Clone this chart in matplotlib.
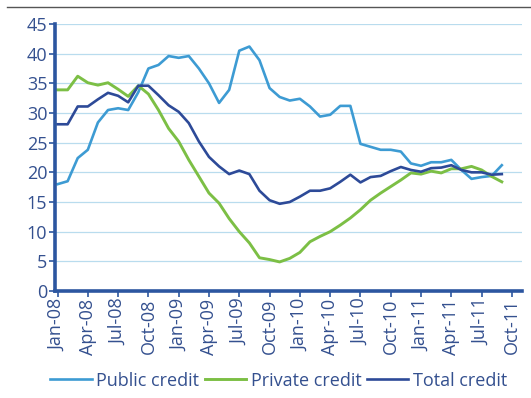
import matplotlib.pyplot as plt
from matplotlib.lines import Line2D

plt.rcParams['font.family'] = ['Open Sans', 'DejaVu Sans']

# monthly growth rates, Jan-08 .. Sep-11
public_credit = [18.0, 18.5, 22.4, 23.8, 28.4, 30.5, 30.8, 30.5, 33.5, 37.5,
                 38.1, 39.6, 39.3, 39.6, 37.5, 35.0, 31.7, 33.9, 40.5, 41.2,
                 38.9, 34.2, 32.7, 32.1, 32.4, 31.1, 29.4, 29.7, 31.2, 31.2,
                 24.8, 24.3, 23.8, 23.8, 23.5, 21.5, 21.1, 21.7, 21.7, 22.1,
                 20.4, 18.9, 19.2, 19.4, 21.2]
private_credit = [33.9, 33.9, 36.2, 35.1, 34.7, 35.1, 34.0, 32.8, 34.6, 33.2,
                  30.5, 27.4, 25.2, 22.1, 19.3, 16.5, 14.8, 12.2, 10.0, 8.1,
                  5.6, 5.3, 4.9, 5.5, 6.5, 8.3, 9.2, 10.0, 11.1, 12.3,
                  13.7, 15.3, 16.5, 17.6, 18.7, 19.9, 19.7, 20.2, 19.9, 20.6,
                  20.6, 21.0, 20.4, 19.3, 18.4]
total_credit = [28.1, 28.1, 31.1, 31.1, 32.3, 33.4, 32.9, 31.8, 34.6, 34.6,
                33.0, 31.3, 30.2, 28.3, 25.2, 22.6, 21.0, 19.7, 20.3, 19.7,
                16.9, 15.3, 14.7, 15.0, 15.9, 16.9, 16.9, 17.3, 18.4, 19.6,
                18.3, 19.2, 19.4, 20.2, 20.9, 20.4, 20.1, 20.7, 20.8, 21.2,
                20.4, 20.0, 20.0, 19.6, 19.7]

tick_labels = ['Jan-08', 'Apr-08', 'Jul-08', 'Oct-08', 'Jan-09', 'Apr-09',
               'Jul-09', 'Oct-09', 'Jan-10', 'Apr-10', 'Jul-10', 'Oct-10',
               'Jan-11', 'Apr-11', 'Jul-11', 'Oct-11']

months = list(range(len(public_credit)))
axis_col = '#2c56a0'
text_col = '#34508f'

fig = plt.figure(figsize=(5.31, 3.98), dpi=100)
ax = fig.add_axes([55/531, 1 - 291/398, (522 - 55)/531, (291 - 24)/398])

ax.plot(months, public_credit, color='#3d9bd3', lw=1.9, label='Public credit')
ax.plot(months, private_credit, color='#7cbf45', lw=2.1, label='Private credit')
ax.plot(months, total_credit, color='#2d4a98', lw=1.9, label='Total credit')

ax.set_ylim(0, 45)
ax.set_yticks(range(0, 46, 5))
ax.set_xlim(-0.25, 46)
ax.set_xticks(range(0, 46, 3))
ax.set_xticklabels(tick_labels, rotation=90)

ax.grid(axis='y', color='#b9dcee', lw=0.9)
ax.set_axisbelow(True)
for side in ['top', 'right']:
    ax.spines[side].set_visible(False)
for side in ['left', 'bottom']:
    ax.spines[side].set_color(axis_col)
    ax.spines[side].set_linewidth(2.6)
ax.tick_params(axis='both', colors=axis_col, labelcolor=text_col,
               labelsize=13, length=4, width=1.2, pad=1.5)

fig.legend(loc='lower center', bbox_to_anchor=(0.525, -0.02), ncol=3,
           frameon=False, fontsize=13, labelcolor=text_col,
           handlelength=2.3, handletextpad=0.25, columnspacing=0.3)

fig.add_artist(Line2D([7/531, 1], [1 - 7/398, 1 - 7/398], color='#555555', lw=1))

fig.savefig('out.png', dpi=100)
